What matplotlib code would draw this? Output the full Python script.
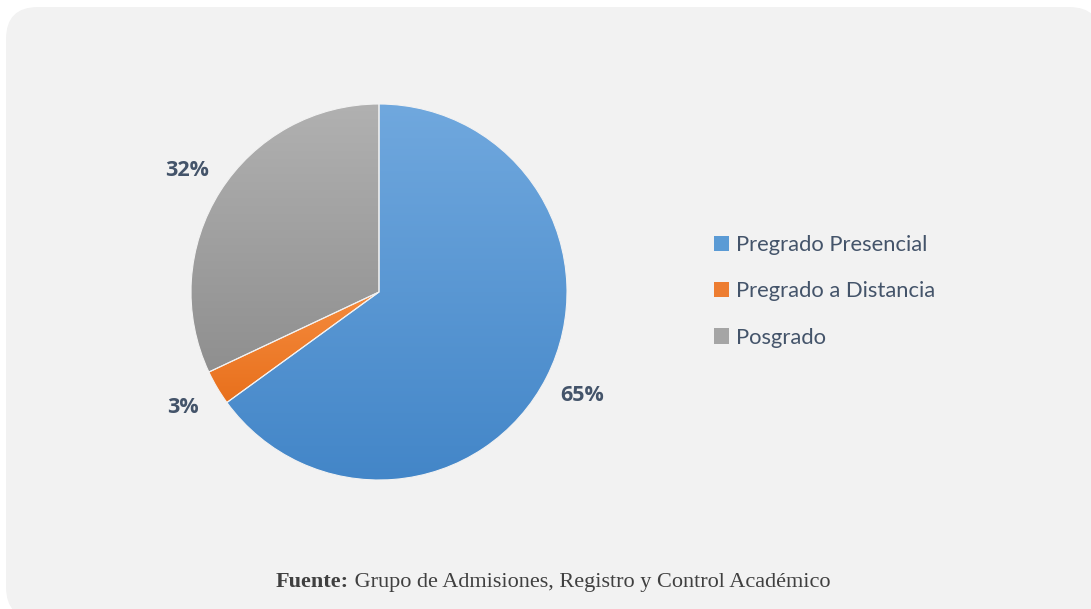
import numpy as np
import matplotlib
matplotlib.use("Agg")
import matplotlib.pyplot as plt
from matplotlib.patches import FancyBboxPatch, Patch
from matplotlib.colors import LinearSegmentedColormap

categories = ["Pregrado Presencial", "Pregrado a Distancia", "Posgrado"]
values = [65, 3, 32]
top_colors = ["#70a8de", "#f58b3e", "#b1b1b1"]
bottom_colors = ["#4386c8", "#e8701c", "#8f8f8f"]
legend_colors = ["#5b9bd5", "#ed7d31", "#a5a5a5"]
source_bold = "Fuente:"
source_text = " Grupo de Admisiones, Registro y Control Académico"

W, H = 1091, 609
fig = plt.figure(figsize=(W / 100, H / 100), dpi=100)
fig.patch.set_facecolor("white")

# background panel
bg = fig.add_axes([0, 0, 1, 1])
bg.set_xlim(0, W)
bg.set_ylim(H, 0)
bg.axis("off")
panel = FancyBboxPatch((6, 7), W + 10 - 6, H + 10 - 7,
                       boxstyle="round,pad=0,rounding_size=32",
                       facecolor="#f2f2f2", edgecolor="none")
bg.add_patch(panel)

# pie axes
cx, cy, r = 379, 292, 188
ax = fig.add_axes([(cx - r) / W, (H - cy - r) / H, 2 * r / W, 2 * r / H])
ax.set_facecolor("none")
wedges, texts, autotexts = ax.pie(
    values, startangle=90, counterclock=False, radius=1,
    colors=legend_colors, autopct="%1.0f%%", pctdistance=1.21,
    wedgeprops=dict(edgecolor="none"),
    textprops=dict(fontsize=15.5, fontweight="bold", color="#44546a",
                   family="Open Sans"))
ax.set_xlim(-1, 1)
ax.set_ylim(-1, 1)
ax.set_aspect("equal")
ax.axis("off")

# gradient fills clipped to each wedge
for w, ct, cb in zip(wedges, top_colors, bottom_colors):
    ext = w.get_path().get_extents(w.get_transform() + ax.transData.inverted())
    cmap = LinearSegmentedColormap.from_list("g", [cb, ct])
    grad = np.linspace(0, 1, 256).reshape(-1, 1)
    im = ax.imshow(grad, cmap=cmap, origin="lower", aspect="auto",
                   extent=[ext.x0, ext.x1, ext.y0, ext.y1], zorder=1.5,
                   interpolation="bicubic")
    im.set_clip_path(w)
    w.set_zorder(1)

# thin separators
for w in wedges:
    w.set_facecolor("none")
    w.set_edgecolor("#f2f2f2")
    w.set_linewidth(0.8)
    w.set_zorder(2)
ax.set_xlim(-1, 1)
ax.set_ylim(-1, 1)

# legend
handles = [Patch(facecolor=c, edgecolor="none") for c in legend_colors]
leg = fig.legend(handles, categories, loc="center left",
                 bbox_to_anchor=(694 / W, 1 - 291.5 / H), frameon=False,
                 prop=dict(family="Lato", size=15.8), labelcolor="#44546a",
                 handlelength=0.7, handleheight=0.7, handletextpad=0.3,
                 labelspacing=1.2)

# source
fs = 16
t1 = bg.text(0, 0, source_bold, fontsize=fs, fontweight="bold",
             family="Liberation Serif", color="#404040", va="baseline")
fig.canvas.draw()
rend = fig.canvas.get_renderer()
bb1 = t1.get_window_extent(rend)
t2 = bg.text(0, 0, source_text, fontsize=fs, family="Liberation Serif",
             color="#404040", va="baseline")
bb2 = t2.get_window_extent(rend)
total = bb1.width + bb2.width
x0 = 553 - total / 2
t1.set_position((x0, 587))
t2.set_position((x0 + bb1.width, 587))

fig.savefig("out.png", dpi=100, facecolor="white")
